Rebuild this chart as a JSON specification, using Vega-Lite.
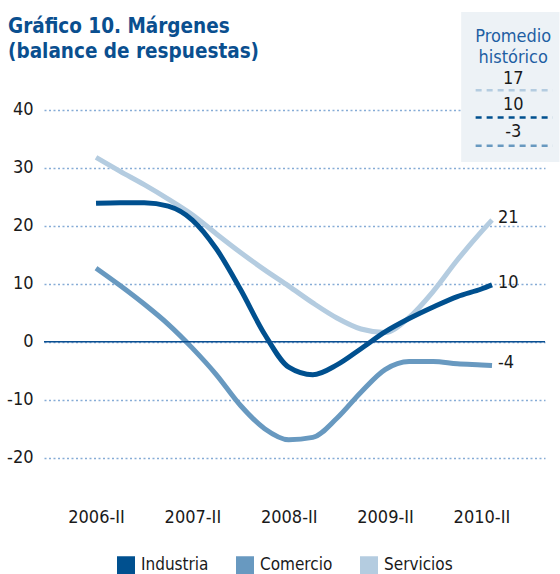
{
  "$schema": "https://vega.github.io/schema/vega-lite/v6.json",
  "width": 501,
  "height": 492,
  "autosize": "none",
  "padding": {"left": 44, "top": 12, "right": 15, "bottom": 70},
  "background": "white",
  "title": {
    "text": ["Gráfico 10. Márgenes", "(balance de respuestas)"],
    "anchor": "start",
    "frame": "group",
    "orient": "top",
    "dx": -36,
    "offset": -50,
    "font": "DejaVu Sans Condensed",
    "fontWeight": "bold",
    "fontSize": 20.5,
    "lineHeight": 25,
    "color": "#0a4f8f"
  },
  "config": {
    "view": {"stroke": null},
    "font": "DejaVu Sans Condensed",
    "axis": {"labelFont": "DejaVu Sans Condensed", "labelFontSize": 18, "labelColor": "#1a1a1a"},
    "legend": {"labelFont": "DejaVu Sans Condensed", "labelFontSize": 17, "labelColor": "#1a1a1a"}
  },
  "datasets": {
    "margenes": [
      {"fecha": 2006.5, "serie": "Servicios", "valor": 31.8},
      {"fecha": 2006.75, "serie": "Servicios", "valor": 29.4},
      {"fecha": 2007.0, "serie": "Servicios", "valor": 27.1},
      {"fecha": 2007.25, "serie": "Servicios", "valor": 24.6},
      {"fecha": 2007.5, "serie": "Servicios", "valor": 21.9},
      {"fecha": 2007.75, "serie": "Servicios", "valor": 18.6},
      {"fecha": 2008.0, "serie": "Servicios", "valor": 15.4},
      {"fecha": 2008.25, "serie": "Servicios", "valor": 12.4},
      {"fecha": 2008.5, "serie": "Servicios", "valor": 9.6},
      {"fecha": 2008.75, "serie": "Servicios", "valor": 6.7},
      {"fecha": 2009.0, "serie": "Servicios", "valor": 4.1},
      {"fecha": 2009.25, "serie": "Servicios", "valor": 2.2},
      {"fecha": 2009.5, "serie": "Servicios", "valor": 1.6},
      {"fecha": 2009.75, "serie": "Servicios", "valor": 4.2},
      {"fecha": 2010.0, "serie": "Servicios", "valor": 8.7},
      {"fecha": 2010.25, "serie": "Servicios", "valor": 14.1},
      {"fecha": 2010.5, "serie": "Servicios", "valor": 19.0},
      {"fecha": 2010.61, "serie": "Servicios", "valor": 21.0},
      {"fecha": 2006.5, "serie": "Comercio", "valor": 12.7},
      {"fecha": 2006.75, "serie": "Comercio", "valor": 9.7},
      {"fecha": 2007.0, "serie": "Comercio", "valor": 6.5},
      {"fecha": 2007.25, "serie": "Comercio", "valor": 3.0},
      {"fecha": 2007.5, "serie": "Comercio", "valor": -1.1},
      {"fecha": 2007.75, "serie": "Comercio", "valor": -5.7},
      {"fecha": 2008.0, "serie": "Comercio", "valor": -11.0},
      {"fecha": 2008.25, "serie": "Comercio", "valor": -15.0},
      {"fecha": 2008.5, "serie": "Comercio", "valor": -16.9},
      {"fecha": 2008.75, "serie": "Comercio", "valor": -16.5},
      {"fecha": 2009.0, "serie": "Comercio", "valor": -13.2},
      {"fecha": 2009.25, "serie": "Comercio", "valor": -8.7},
      {"fecha": 2009.5, "serie": "Comercio", "valor": -4.8},
      {"fecha": 2009.75, "serie": "Comercio", "valor": -3.4},
      {"fecha": 2010.0, "serie": "Comercio", "valor": -3.4},
      {"fecha": 2010.25, "serie": "Comercio", "valor": -3.8},
      {"fecha": 2010.5, "serie": "Comercio", "valor": -4.0},
      {"fecha": 2010.61, "serie": "Comercio", "valor": -4.1},
      {"fecha": 2006.5, "serie": "Industria", "valor": 23.9},
      {"fecha": 2006.75, "serie": "Industria", "valor": 24.0},
      {"fecha": 2007.0, "serie": "Industria", "valor": 24.0},
      {"fecha": 2007.25, "serie": "Industria", "valor": 23.4},
      {"fecha": 2007.5, "serie": "Industria", "valor": 21.0},
      {"fecha": 2007.75, "serie": "Industria", "valor": 16.0},
      {"fecha": 2008.0, "serie": "Industria", "valor": 9.0},
      {"fecha": 2008.25, "serie": "Industria", "valor": 1.3},
      {"fecha": 2008.5, "serie": "Industria", "valor": -4.4},
      {"fecha": 2008.75, "serie": "Industria", "valor": -5.7},
      {"fecha": 2009.0, "serie": "Industria", "valor": -4.0},
      {"fecha": 2009.25, "serie": "Industria", "valor": -1.2},
      {"fecha": 2009.5, "serie": "Industria", "valor": 1.7},
      {"fecha": 2009.75, "serie": "Industria", "valor": 4.0},
      {"fecha": 2010.0, "serie": "Industria", "valor": 6.0},
      {"fecha": 2010.25, "serie": "Industria", "valor": 7.8},
      {"fecha": 2010.5, "serie": "Industria", "valor": 9.1},
      {"fecha": 2010.61, "serie": "Industria", "valor": 9.8}
    ]
  },
  "layer": [
    {
      "data": {"values": [{}]},
      "mark": {"type": "rect", "color": "#edf2f6"},
      "encoding": {
        "x": {"datum": 2010.29, "type": "quantitative"},
        "x2": {"datum": 2011.31},
        "y": {"datum": 56.9, "type": "quantitative"},
        "y2": {"datum": 31.0}
      }
    },
    {
      "data": {"name": "margenes"},
      "mark": {"type": "line", "interpolate": "monotone", "strokeWidth": 5},
      "encoding": {
        "x": {
          "field": "fecha", "type": "quantitative", "title": null,
          "scale": {"domain": [2005.96, 2011.16], "nice": false, "zero": false},
          "axis": {
            "values": [2006.5, 2007.5, 2008.5, 2009.5, 2010.5],
            "labelExpr": "toString(floor(datum.value)) + '-II'",
            "grid": false, "domain": false, "ticks": false, "labelPadding": 4, "labelFlush": false
          }
        },
        "y": {
          "field": "valor", "type": "quantitative", "title": null,
          "scale": {"domain": [-28, 56.9], "nice": false, "zero": false},
          "axis": {
            "values": [-20, -10, 0, 10, 20, 30, 40],
            "labelExpr": "toString(datum.value)",
            "grid": true, "gridColor": "#86acd6", "gridDash": [2, 2.5], "gridWidth": 1.5,
            "domain": false, "ticks": false, "labelPadding": 11
          }
        },
        "color": {
          "field": "serie", "type": "nominal", "title": null,
          "scale": {"domain": ["Industria", "Comercio", "Servicios"], "range": ["#00508f", "#6899c0", "#b4cce0"]},
          "legend": {
            "orient": "none", "legendX": 73, "legendY": 544, "direction": "horizontal", "symbolType": "square",
            "symbolSize": 81, "symbolStrokeWidth": 9, "labelOffset": 6, "columnPadding": 13
          }
        }
      }
    },
    {
      "data": {"values": [{}]},
      "mark": {"type": "rule", "color": "#0a4f91", "strokeWidth": 1.5},
      "encoding": {"y": {"datum": 0, "type": "quantitative"}}
    },
    {
      "data": {"name": "margenes"},
      "transform": [
        {"filter": "datum.fecha > 2010.6"},
        {"calculate": "toString(round(datum.valor))", "as": "etiqueta"}
      ],
      "mark": {"type": "text", "align": "left", "baseline": "middle", "dx": 6, "dy": -2, "fontSize": 18, "font": "DejaVu Sans Condensed", "color": "#1a1a1a"},
      "encoding": {
        "x": {"field": "fecha", "type": "quantitative"},
        "y": {"field": "valor", "type": "quantitative"},
        "text": {"field": "etiqueta"}
      }
    },
    {
      "data": {"values": [{}]},
      "mark": {"type": "text", "text": ["Promedio", "histórico"], "align": "center", "baseline": "middle", "fontSize": 18, "lineHeight": 21, "font": "DejaVu Sans Condensed", "color": "#1f5fa3"},
      "encoding": {"x": {"datum": 2010.83, "type": "quantitative"}, "y": {"datum": 52.5, "type": "quantitative"}}
    },
    {
      "data": {"values": [{}]},
      "mark": {"type": "text", "text": "17", "align": "center", "baseline": "middle", "fontSize": 18, "font": "DejaVu Sans Condensed", "color": "#1a1a1a"},
      "encoding": {"x": {"datum": 2010.83, "type": "quantitative"}, "y": {"datum": 45.4, "type": "quantitative"}}
    },
    {
      "data": {"values": [{}]},
      "mark": {"type": "text", "text": "10", "align": "center", "baseline": "middle", "fontSize": 18, "font": "DejaVu Sans Condensed", "color": "#1a1a1a"},
      "encoding": {"x": {"datum": 2010.83, "type": "quantitative"}, "y": {"datum": 40.8, "type": "quantitative"}}
    },
    {
      "data": {"values": [{}]},
      "mark": {"type": "text", "text": "-3", "align": "center", "baseline": "middle", "fontSize": 18, "font": "DejaVu Sans Condensed", "color": "#1a1a1a"},
      "encoding": {"x": {"datum": 2010.83, "type": "quantitative"}, "y": {"datum": 36.2, "type": "quantitative"}}
    },
    {
      "data": {"values": [{}]},
      "mark": {"type": "rule", "color": "#b4cce0", "strokeWidth": 2.5, "strokeDash": [6, 5]},
      "encoding": {"x": {"datum": 2010.44, "type": "quantitative"}, "x2": {"datum": 2011.24}, "y": {"datum": 43.4, "type": "quantitative"}}
    },
    {
      "data": {"values": [{}]},
      "mark": {"type": "rule", "color": "#00508f", "strokeWidth": 2.5, "strokeDash": [6, 5]},
      "encoding": {"x": {"datum": 2010.44, "type": "quantitative"}, "x2": {"datum": 2011.24}, "y": {"datum": 38.7, "type": "quantitative"}}
    },
    {
      "data": {"values": [{}]},
      "mark": {"type": "rule", "color": "#6899c0", "strokeWidth": 2.5, "strokeDash": [6, 5]},
      "encoding": {"x": {"datum": 2010.44, "type": "quantitative"}, "x2": {"datum": 2011.24}, "y": {"datum": 33.8, "type": "quantitative"}}
    }
  ]
}
